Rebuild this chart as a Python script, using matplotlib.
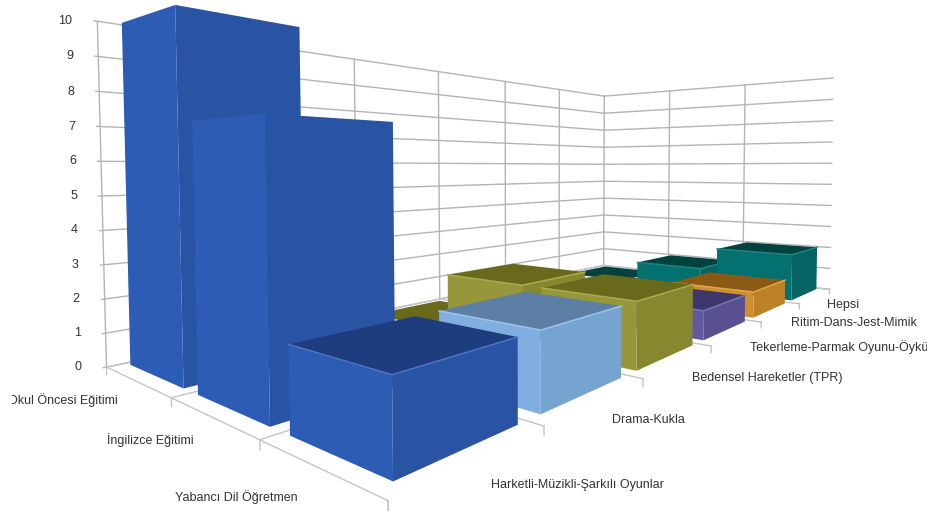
import numpy as np
import matplotlib
matplotlib.use('Agg')
import matplotlib.pyplot as plt
from matplotlib.transforms import Bbox

W, H = 928, 511

# rows along the depth axis, columns along the long floor edge (None = empty cell)
rows = ['Okul Öncesi Eğitimi', 'İngilizce Eğitimi', 'Yabancı Dil Öğretmen']
activities = ['Harketli-Müzikli-Şarkılı Oyunlar', 'Drama-Kukla', 'Bedensel Hareketler (TPR)',
              'Tekerleme-Parmak Oyunu-Öykü', 'Ritim-Dans-Jest-Mimik', 'Hepsi']
okul_oncesi = [10, None, 0, None, None, 0]
ingilizce = [7, None, 2, None, None, 1]
yabanci_dil = [2, 2, 2, 1, 1, 2]
values = [okul_oncesi, ingilizce, yabanci_dil]
z_ticks = list(range(0, 11))

# left face, right face, top for each activity
shades = [
    ('#2c5cb4', '#2953a3', '#1e3d7e'),
    ('#80aee0', '#76a3d0', '#5d7fa6'),
    ('#96963a', '#87872f', '#69691c'),
    ('#62589f', '#595091', '#3c376e'),
    ('#cf8f2c', '#bd8228', '#8a5a14'),
    ('#047070', '#056363', '#02423e'),
]
highlight = ['#4d74c4', '#9cc4ea', '#aaaa50', '#7c72b8', '#e0a648', '#1c8484']
near_gap, far_gap = 0.12, 0.07

# reference points for the camera: (x, y, z) on the box and where they land in pixels
cam_world = np.array([
    (0, 0, 0), (0, 0, 10), (0, 3, 0), (6, 0, 0), (6, 0, 10), (6, 3, 0), (6, 3, 10),
    (0, 1, 0), (0, 2, 0), (1, 3, 0), (2, 3, 0), (3, 3, 0), (4, 3, 0), (5, 3, 0),
    (6, 1, 10), (6, 2, 10), (2, 0, 10), (3, 0, 10), (4, 0, 10), (5, 0, 10),
], dtype=float)
cam_pixel = np.array([
    (106, 367), (97, 21), (388, 500), (604, 266), (604, 96), (830, 288), (834, 78),
    (172, 398), (260, 440), (543, 427), (643, 379), (711, 346), (761, 322), (799, 304),
    (669, 91), (745, 86), (355, 59), (439, 72), (505, 81), (559, 89),
], dtype=float)


def fit_camera(world, pixel):
    a, b = [], []
    for (x, y, z), (u, v) in zip(world, pixel):
        a.append([x, y, z, 1, 0, 0, 0, 0, -u * x, -u * y, -u * z])
        a.append([0, 0, 0, 0, x, y, z, 1, -v * x, -v * y, -v * z])
        b += [u, v]
    p = np.linalg.lstsq(np.array(a), np.array(b), rcond=None)[0]
    return np.append(p, 1).reshape(3, 4)


cam = fit_camera(cam_world, cam_pixel)


def to_pixel(x, y, z):
    u, v, w = cam @ np.array([x, y, z, 1.0])
    return u / w, v / w


plt.rcParams['font.family'] = ['Liberation Sans', 'DejaVu Sans']
fig = plt.figure(figsize=(W / 100, H / 100), dpi=100)
# the 3d axes insist on being square, so make it big enough to cover the figure
ax = fig.add_axes([0, (H - W) / 2 / H, 1, W / H], projection='3d', computed_zorder=False)
ax.set_axis_off()
ax.patch.set_visible(False)


def get_proj():
    to_view = ax.transData.inverted().get_affine().get_matrix()
    flip = np.array([[1, 0, 0], [0, -1, H], [0, 0, 1.0]])
    pv = to_view @ flip @ cam
    # depth stays negative or mplot3d clips the lines away
    depth = np.array([0.001, -0.001, -0.001, -0.5])
    return np.vstack([pv[0], pv[1], depth, pv[2]])


ax.get_proj = get_proj

grid = '#b4b4b4'
floor_grid = '#c4c4c4'
nx, ny = len(activities), len(rows)

# walls
for z in z_ticks:
    ax.plot([-0.02, nx], [0, 0], [z, z], color=grid, lw=1, zorder=1)
    ax.plot([nx, nx], [0, ny], [z, z], color=grid, lw=1, zorder=1)
for x in range(nx + 1):
    ax.plot([x, x], [0, 0], [0, z_ticks[-1]], color=grid, lw=1, zorder=1)
for y in range(1, ny):
    ax.plot([nx, nx], [y, y], [0, z_ticks[-1]], color=grid, lw=1, zorder=1)

# floor and the small ticks below its edges, the long front edge stays open
for x in range(nx + 1):
    ax.plot([x, x], [0, ny], [0, 0], color=floor_grid, lw=1, zorder=1)
    ax.plot([x, x], [ny, ny], [0, -0.22], color=floor_grid, lw=1, zorder=1)
for y in range(ny + 1):
    if y < ny:
        ax.plot([0, nx], [y, y], [0, 0], color=floor_grid, lw=1, zorder=1)
    ax.plot([0, 0], [y, y], [0, -0.22], color=floor_grid, lw=1, zorder=1)

# bars, back to front
order = 2
clear = (0, 0, 0, 0)
for j in range(ny):
    for i in range(nx - 1, -1, -1):
        h = values[j][i]
        if h is None:
            continue
        left, right, top = shades[i]
        x0, y0 = i + near_gap, j + far_gap
        x1, y1 = i + 1 - far_gap, j + 1 - near_gap
        # tops above eye level face away from the viewer
        top_seen = to_pixel(x0, y1, h)[1] > to_pixel(x1, y0, h)[1]
        faces = [clear, top if top_seen else clear, clear, right, left, clear]
        ax.bar3d(x0, y0, 0, x1 - x0, y1 - y0, h, color=faces, shade=False, linewidth=0, zorder=order)
        if top_seen and h > 0:
            ax.plot([x0, x0, x1], [y0, y1, y1], [h, h, h], color=highlight[i], lw=1.1, zorder=order + 1)
        order += 2

text_color = '#333333'
for z in z_ticks:
    px, py = to_pixel(0, 0, z)
    fig.text((px - 25) / W, 1 - py / H, str(z), ha='right', va='center', fontsize=9, color=text_color)

row_pos = [(63, 400), (150, 440), (236, 497)]
act_pos = [(577, 485), (648, 420), (767, 378), (839, 347), (854, 323), (843, 305)]
for name, (px, py) in zip(rows, row_pos):
    t = fig.text(px / W, 1 - py / H, name, ha='center', va='center', fontsize=9, color=text_color)
    # long first label gets cut off on the left
    t.set_clip_box(Bbox([[12, 0], [W, H]]))
    t.set_clip_on(True)
for name, (px, py) in zip(activities, act_pos):
    fig.text(px / W, 1 - py / H, name, ha='center', va='center', fontsize=9, color=text_color)

fig.savefig('out.png', dpi=100)
